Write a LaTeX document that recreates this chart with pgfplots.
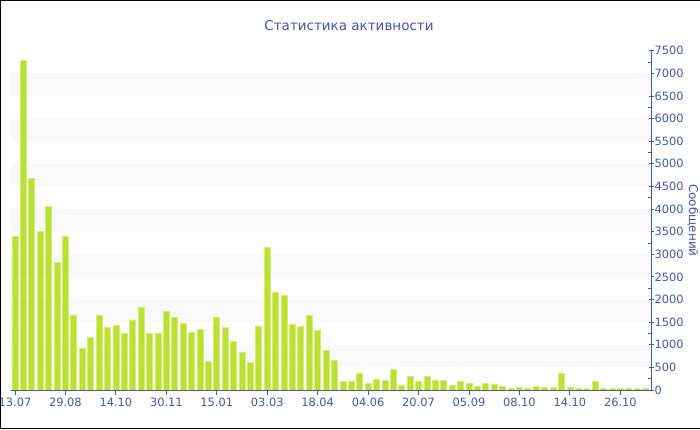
\documentclass[border=0pt]{standalone}
\usepackage{pgfplots}
\pgfplotsset{compat=1.18}
\usepackage{fontspec}
\setmainfont{DejaVu Sans}
\definecolor{tb}{RGB}{70,88,166}
\definecolor{barg}{RGB}{189,225,49}
\definecolor{bare}{RGB}{212,237,125}
\definecolor{stripe}{RGB}{249,249,249}
\begin{document}
\begin{tikzpicture}[x=1pt,y=1pt]
\useasboundingbox (0,0) rectangle (700,430);
\clip (0,0) rectangle (700,430);
\fill[white] (0,0) rectangle (700,430);
\begin{axis}[
  at={(10.7pt,40pt)}, anchor=south west, scale only axis,
  width=640.3pt, height=339.3pt,
  xmin=-0.51, xmax=75.65, ymin=0, ymax=7500,
  axis x line*=bottom, axis y line*=right,
  axis line style={draw=tb, line width=0.8pt},
  xtick={0,6,...,72},
  xticklabels={13.07,29.08,14.10,30.11,15.01,03.03,18.04,04.06,20.07,05.09,08.10,14.10,26.10},
  ytick={0,500,...,7500},
  minor y tick num=1,
  scaled y ticks=false,
  /pgf/number format/1000 sep={},
  /pgf/number format/assume math mode=true,
  tick label style={font=\fontsize{11.4}{13}\selectfont, text=tb},
  x tick style={draw=tb, line width=0.8pt},
  y tick style={draw=tb, line width=0.8pt},
  xtick align=outside,
  ytick align=center,
  major tick length=5pt,
  minor tick length=3pt,
  minor y tick style={draw=tb, xshift=-1.5pt, line width=0.6pt},
  yticklabel style={anchor=west, inner xsep=0pt, xshift=1pt},
  ylabel={Сообщений},
  every axis y label/.style={at={(rel axis cs:1,0.5)}, xshift=38pt, rotate=-90, anchor=base, text=tb, font=\fontsize{12}{14}\selectfont},
]
\fill[stripe] (axis cs:-0.51,500) rectangle (axis cs:75.65,1000);
\fill[stripe] (axis cs:-0.51,1500) rectangle (axis cs:75.65,2000);
\fill[stripe] (axis cs:-0.51,2500) rectangle (axis cs:75.65,3000);
\fill[stripe] (axis cs:-0.51,3500) rectangle (axis cs:75.65,4000);
\fill[stripe] (axis cs:-0.51,4500) rectangle (axis cs:75.65,5000);
\fill[stripe] (axis cs:-0.51,5500) rectangle (axis cs:75.65,6000);
\fill[stripe] (axis cs:-0.51,6500) rectangle (axis cs:75.65,7000);
\addplot[ybar, bar width=6pt, fill=barg, draw=bare, line width=0.7pt] coordinates {
(0,3390) (1,7290) (2,4680) (3,3500) (4,4050) (5,2820) (6,3400) (7,1640) (8,910) (9,1160)
(10,1660) (11,1380) (12,1430) (13,1250) (14,1550) (15,1835) (16,1260) (17,1260) (18,1740) (19,1600)
(20,1466) (21,1275) (22,1334) (23,626) (24,1614) (25,1378) (26,1083) (27,840) (28,604) (29,1415)
(30,3154) (31,2166) (32,2093) (33,1451) (34,1415) (35,1650) (36,1319) (37,884) (38,655) (39,199)
(40,184) (41,369) (42,147) (43,243) (44,214) (45,457) (46,111) (47,302) (48,192) (49,302)
(50,221) (51,221) (52,103) (53,184) (54,147) (55,88) (56,147) (57,133) (58,74) (59,37)
(60,51) (61,29) (62,88) (63,66) (64,66) (65,369) (66,66) (67,44) (68,44) (69,192)
(70,29) (71,44) (72,29) (73,29) (74,29) (75,37)
};
\end{axis}
\node[anchor=base, text=tb, font=\fontsize{13.5}{16}\selectfont] at (349,399.5) {Статистика активности};
\draw[black, line width=1pt] (0.5,430) -- (0.5,1.5) -- (700,1.5);
\draw[black, line width=1pt] (0,429.5) -- (700,429.5);
\end{tikzpicture}
\end{document}
